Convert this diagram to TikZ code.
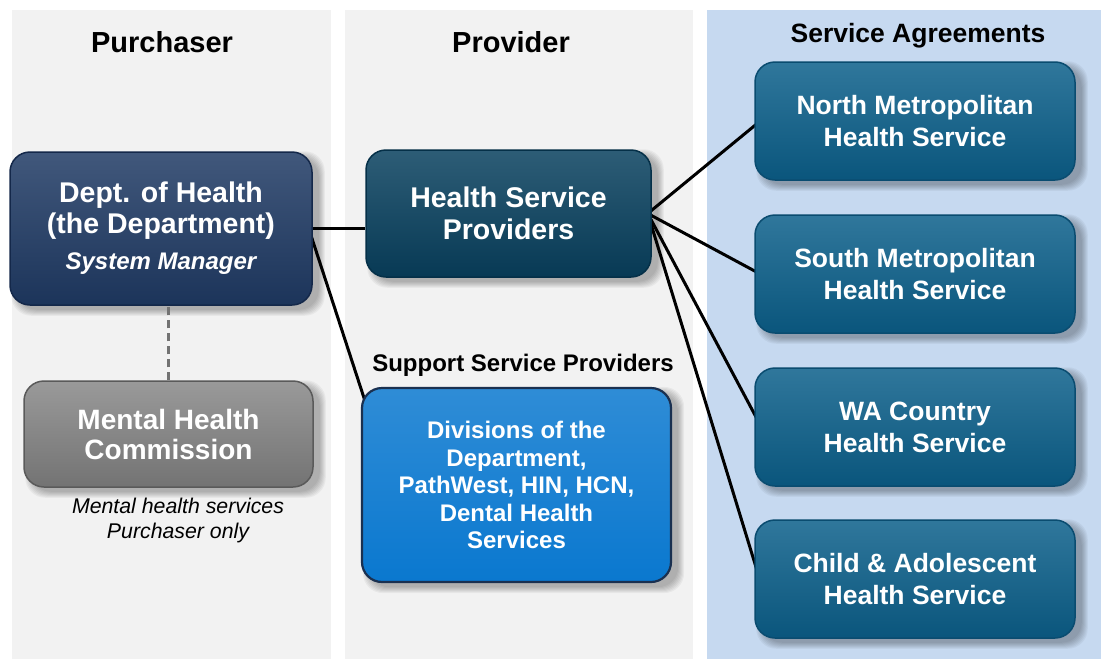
\documentclass[tikz,border=0pt]{standalone}
\usepackage{fontspec}
\setmainfont{Liberation Sans}
\usetikzlibrary{calc}
\pgfdeclarelayer{panels}
\pgfdeclarelayer{shadowlayer}
\pgfdeclarelayer{lines}
\pgfsetlayers{panels,shadowlayer,lines,main}
\definecolor{panelgray}{HTML}{F2F2F2}
\definecolor{panelblue}{HTML}{C6D9F0}
\definecolor{navy}{HTML}{1F3A64}
\definecolor{navyedge}{HTML}{14284A}
\definecolor{teal}{HTML}{08405E}
\definecolor{tealedge}{HTML}{053048}
\definecolor{mgray}{HTML}{808080}
\definecolor{mgrayedge}{HTML}{5A5A5A}
\definecolor{brblue}{HTML}{0A78CF}
\definecolor{brblueedge}{HTML}{1A3050}
\definecolor{sblue}{HTML}{0B5F8A}
\definecolor{sblueedge}{HTML}{0A4C70}
\tikzset{
  hdr/.style={font=\fontsize{29}{33}\selectfont\bfseries, text=black, inner sep=0pt},
  boxbase/.style={rounded corners=20pt, line width=1.5pt, align=center, text=white,
    font=\fontsize{28.5}{32}\selectfont\bfseries, inner sep=0pt},
  deptbox/.style={boxbase, draw=navyedge, top color=navy!85!white, middle color=navy, bottom color=navy!90!black},
  hspbox/.style={boxbase, draw=tealedge, top color=teal!85!white, middle color=teal, bottom color=teal!90!black},
  mhcbox/.style={boxbase, draw=mgrayedge, top color=mgray!80!white, middle color=mgray, bottom color=mgray!90!black,
    font=\fontsize{28}{30}\selectfont\bfseries},
  divbox/.style={boxbase, draw=brblueedge, line width=2.2pt, top color=brblue!85!white, middle color=brblue, bottom color=brblue,
    font=\fontsize{24}{27.5}\selectfont\bfseries},
  sabox/.style={boxbase, draw=sblueedge, top color=sblue!85!white, middle color=sblue, bottom color=sblue!90!black,
    font=\fontsize{26.5}{32}\selectfont\bfseries},
  softshadow/.style={fill=black, fill opacity=0.045, draw=none, rounded corners=20pt},
  link/.style={line width=3pt, draw=black},
  dashlink/.style={line width=3pt, draw=mgray!90!black, dash pattern=on 8pt off 5pt}
}
\newcommand\boxshadow[1]{%
  \foreach \k in {1,...,7}{%
    \fill[softshadow] ($(#1.north west)+(9-\k,7-\k)$) rectangle ($(#1.south east)+(5+\k,3+\k)$);
  }%
}
\begin{document}
\begin{tikzpicture}[x=1pt,y=-1pt]
\useasboundingbox (0,0) rectangle (1104,659);
\begin{pgfonlayer}{panels}
\fill[white] (0,0) rectangle (1104,659);
\fill[panelgray] (12,10) rectangle (331,659);
\fill[panelgray] (345,10) rectangle (693,659);
\fill[panelblue] (707,10) rectangle (1101,659);
\end{pgfonlayer}
% headers
\node[hdr] (hpur) at (162,42) {Purchaser};
\node[hdr] (hpro) at (511,42) {Provider};
\node[hdr, font=\fontsize{26.5}{30}\selectfont\bfseries] (hsa) at (918,36) {Service Agreements};
\node[hdr, font=\fontsize{24}{28}\selectfont\bfseries] (hssp) at (523,365) {Support Service Providers};
% boxes
\node[deptbox, minimum width=302pt, minimum height=153pt] (dept) at (161,228.5)
  {Dept. of Health\\[-1pt](the Department)\\[4pt]{\fontsize{24}{28}\selectfont\bfseries\itshape System Manager}};
\node[mhcbox, minimum width=289pt, minimum height=106pt] (mhc) at (168.5,434) {Mental Health\\Commission};
\node[hspbox, minimum width=285pt, minimum height=127pt] (hsp) at (508.5,213.5) {Health Service\\Providers};
\node[divbox, minimum width=309pt, minimum height=194pt] (div) at (516.5,485)
  {Divisions of the\\Department,\\PathWest, HIN, HCN,\\Dental Health\\Services};
\node[sabox, minimum width=320pt, minimum height=118pt] (north) at (915,121) {North Metropolitan\\Health Service};
\node[sabox, minimum width=320pt, minimum height=118pt] (south) at (915,274) {South Metropolitan\\Health Service};
\node[sabox, minimum width=320pt, minimum height=118pt] (wa) at (915,427) {WA Country\\Health Service};
\node[sabox, minimum width=320pt, minimum height=118pt] (child) at (915,579) {Child \& Adolescent\\Health Service};
\node[font=\fontsize{21.3}{25}\selectfont\itshape, align=center, inner sep=0pt] (mhcnote) at (178,520)
  {Mental health services\\Purchaser only};
% shadows
\begin{pgfonlayer}{shadowlayer}
\boxshadow{dept}
\boxshadow{mhc}
\boxshadow{hsp}
\boxshadow{div}
\boxshadow{north}
\boxshadow{south}
\boxshadow{wa}
\boxshadow{child}
\end{pgfonlayer}
% connectors
\begin{pgfonlayer}{lines}
\coordinate (deptout) at ($(dept.east)+(-4,0)$);
\coordinate (hspout) at ($(hsp.east)+(-4,0)$);
\draw[link] (deptout) -- (deptout -| hsp.west);
\draw[link] (deptout) -- ($(div.north west)+(8,26)$);
\draw[dashlink] (mhc.north) -- (mhc.north |- dept.south);
\draw[link] (hspout) -- ($(north.west)+(6,0)$);
\draw[link] (hspout) -- ($(south.west)+(6,0)$);
\draw[link] (hspout) -- ($(wa.west)+(6,-2)$);
\draw[link] (hspout) -- ($(child.west)+(6,2)$);
\end{pgfonlayer}
\end{tikzpicture}
\end{document}
